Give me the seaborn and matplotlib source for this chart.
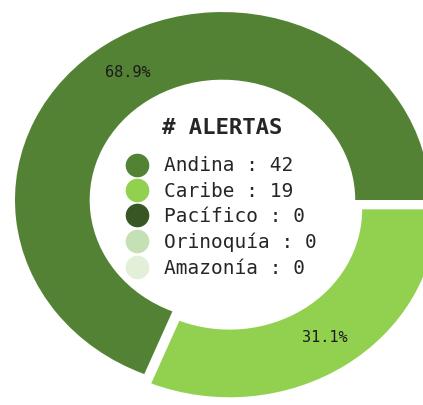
import numpy as np
import matplotlib
matplotlib.use("Agg")
import matplotlib.pyplot as plt
from matplotlib.lines import Line2D
import seaborn as sns

# Alert counts per region
regiones = ["Andina", "Caribe", "Pacífico", "Orinoquía", "Amazonía"]
alertas = [42, 19, 0, 0, 0]
colores = ["#548235", "#92D050", "#375623", "#C5E0B4", "#E2F0D9"]

sns.set_style("white")
plt.rcParams['font.family'] = ['DejaVu Sans Mono', 'DejaVu Sans']

fig = plt.figure(figsize=(4.23, 4.05), dpi=100)
ax = fig.add_axes([0, 0, 1, 1])

# only non-zero regions get a wedge
idx = [i for i, v in enumerate(alertas) if v > 0]
valores = [alertas[i] for i in idx]
wedges, texts, autotexts = ax.pie(
    valores,
    colors=[colores[i] for i in idx],
    explode=[0.03] * len(valores),
    startangle=0,
    autopct=lambda p: f"{p:.1f}%" if p > 0 else "",
    pctdistance=0.82,
    wedgeprops=dict(width=0.36, linewidth=0),
    textprops=dict(fontsize=11, color="#1a1a1a"),
)

# stretched, cropped donut like the original
ax.set_aspect('auto')
ax.set_xlim(-1.089, 0.950)
ax.set_ylim(-1.066, 1.089)
ax.axis('off')

# title in the hole
fig.text(222 / 423, 1 - 128 / 405, "# ALERTAS", ha='center', va='center',
         fontsize=16, fontweight='bold', family='DejaVu Sans Mono')

handles = [Line2D([0], [0], marker='o', color='none', markerfacecolor=c,
                  markeredgecolor=c, markersize=16) for c in colores]
labels = [f"{r} : {v}" for r, v in zip(regiones, alertas)]
leg = ax.legend(handles, labels, loc='center',
                bbox_to_anchor=(222 / 423, 1 - 217 / 405),
                frameon=False, fontsize=14, labelspacing=0.33,
                handlelength=1.0, handletextpad=0.9)

fig.savefig("out.png", dpi=100)
